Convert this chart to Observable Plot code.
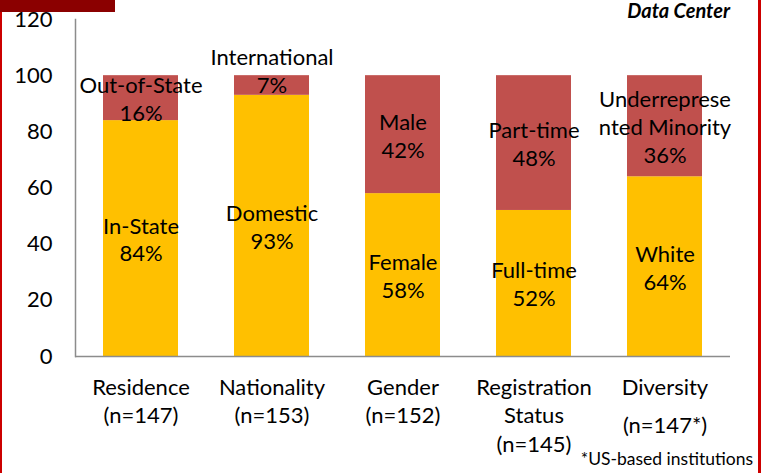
<!DOCTYPE html>
<html>
<head>
<meta charset="utf-8">
<script src="https://cdn.jsdelivr.net/npm/d3@7"></script>
<script src="https://cdn.jsdelivr.net/npm/@observablehq/plot@0.6"></script>
<style>
  html, body { margin: 0; padding: 0; background: #fff; }
  #wrap { position: relative; width: 767px; height: 473px; overflow: hidden; font-family: Lato, sans-serif; }
  .deco { position: absolute; }
</style>
</head>
<body>
<div id="wrap">
  <div id="chart"></div>
  <div class="deco" style="left:0;top:0;width:115px;height:12px;background:#8b0000;"></div>
  <div class="deco" style="left:0;top:12px;width:2px;height:461px;background:#cc0000;"></div>
  <div class="deco" style="left:758px;top:0;width:3px;height:473px;background:#cc0000;"></div>
  <div class="deco" style="right:37px;top:0px;font:italic bold 20px Lato, sans-serif;line-height:20px;color:#000;">Data Center</div>
  <div class="deco" style="right:14px;top:449px;font:17.5px Lato, sans-serif;line-height:20px;color:#000;">*US-based institutions</div>
</div>
<script>
const categories = ["Residence", "Nationality", "Gender", "Registration Status", "Diversity"];
const axisLabels = ["Residence\n(n=147)", "Nationality\n(n=153)", "Gender\n(n=152)", "Registration\nStatus\n(n=145)", "Diversity"];
const extraAxisLabel = "(n=147*)";
const lowerNames = ["In-State", "Domestic", "Female", "Full-time", "White"];
const lowerValues = [84, 93, 58, 52, 64];
const upperNames = ["Out-of-State", "International", "Male", "Part-time", "Underreprese\nnted Minority"];
const upperValues = [16, 7, 42, 48, 36];
const yTicks = [0, 20, 40, 60, 80, 100, 120];

const rows = [];
categories.forEach((c, i) => {
  rows.push({cat: c, part: "lower", value: lowerValues[i], label: lowerNames[i] + "\n" + lowerValues[i] + "%"});
  rows.push({cat: c, part: "upper", value: upperValues[i], label: upperNames[i] + "\n" + upperValues[i] + "%"});
});
const labelMap = new Map(categories.map((c, i) => [c, axisLabels[i]]));
const font = "Lato, sans-serif";
const fs = 22;

const chart = Plot.plot({
  width: 767,
  height: 473,
  marginLeft: 75,
  marginRight: 37,
  marginTop: 19,
  marginBottom: 117,
  style: {fontFamily: font, fontSize: fs + "px", color: "#000", background: "transparent"},
  x: {domain: categories, paddingInner: 0.427, paddingOuter: 0.2135, label: null},
  y: {domain: [0, 120], label: null},
  color: {domain: ["lower", "upper"], range: ["#FFC000", "#C0504D"]},
  marks: [
    Plot.barY(rows, {x: "cat", y: "value", fill: "part", z: "part"}),
    Plot.text(rows, Plot.filter(d => d.value >= 10, Plot.stackY({x: "cat", y: "value", z: "part", text: "label",
      fontSize: fs, lineHeight: 1.27, fill: "#000"}))),
    Plot.text(rows, Plot.filter(d => d.value < 10, Plot.stackY({x: "cat", y: "value", z: "part", text: "label",
      fontSize: fs, lineHeight: 1.27, fill: "#000", dy: -15}))),
    Plot.ruleY([0], {stroke: "#8c8c8c", strokeWidth: 1.5}),
    Plot.frame({anchor: "left", stroke: "#8c8c8c", strokeWidth: 1.5}),
    Plot.axisY({ticks: yTicks, tickSize: 0, tickPadding: 23, fontSize: fs, label: null}),
    Plot.axisX({tickSize: 0, tickPadding: 18, fontSize: fs, lineHeight: 1.3, label: null,
      tickFormat: d => labelMap.get(d)}),
    Plot.text([extraAxisLabel], {x: () => categories[4], frameAnchor: "bottom", dy: 76, fontSize: fs, text: d => d, fill: "#000"})
  ]
});
document.getElementById("chart").appendChild(chart);
</script>
</body>
</html>
